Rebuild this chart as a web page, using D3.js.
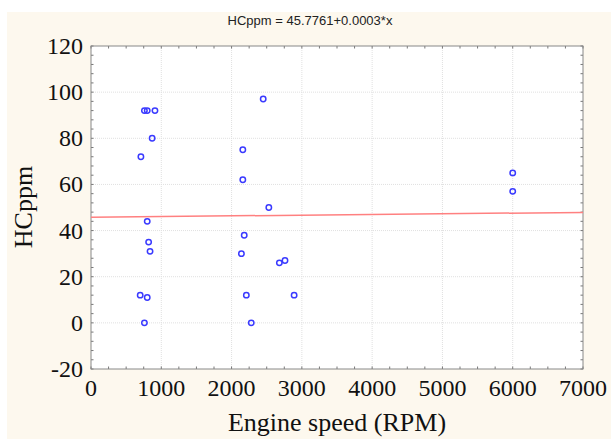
<!DOCTYPE html>
<html>
<head>
<meta charset="utf-8">
<script src="https://cdn.jsdelivr.net/npm/d3@7"></script>
<style>
  body { margin: 0; background: #fff; }
</style>
</head>
<body>
<script>

// engine speed (RPM) and HC (ppm)
var rpm  = [2450, 760, 800, 910, 870, 710, 2160, 2160, 2530, 800, 820, 840, 700, 800, 760, 2180, 2140, 2680, 2760, 2210, 2890, 2280, 6000, 6000];
var hc   = [97, 92, 92, 92, 80, 72, 75, 62, 50, 44, 35, 31, 12, 11, 0, 38, 30, 26, 27, 12, 12, 0, 65, 57];
var xTicks = [0, 1000, 2000, 3000, 4000, 5000, 6000, 7000];
var yTicks = [-20, 0, 20, 40, 60, 80, 100, 120];
var fitA = 45.7761, fitB = 0.0003;

var svg = d3.select('body').append('svg')
    .attr('width', 611)
    .attr('height', 439);

// cream panel
svg.append('rect')
    .attr('x', 7).attr('y', 12)
    .attr('width', 604).attr('height', 427)
    .attr('fill', '#fdf8ee');

var pL = 91, pR = 583, pT = 46, pB = 369;

var x = d3.scaleLinear().domain([0, 7000]).range([pL, pR]);
var y = d3.scaleLinear().domain([-20, 120]).range([pB, pT]);

svg.append('rect')
    .attr('x', pL).attr('y', pT)
    .attr('width', pR - pL).attr('height', pB - pT)
    .attr('fill', '#fff');

// grid
svg.selectAll('.gx').data(xTicks.slice(1, -1)).enter().append('line')
    .attr('x1', d => x(d)).attr('x2', d => x(d))
    .attr('y1', pT).attr('y2', pB)
    .attr('stroke', '#e0e0e0').attr('stroke-dasharray', '1,1');
svg.selectAll('.gy').data(yTicks.slice(1, -1)).enter().append('line')
    .attr('x1', pL).attr('x2', pR)
    .attr('y1', d => y(d)).attr('y2', d => y(d))
    .attr('stroke', '#e0e0e0').attr('stroke-dasharray', '1,1');

// inward minor ticks on every side
var xMinor = d3.range(0, 7001, 250);
var yMinor = d3.range(-20, 121, 4);
var tk = svg.append('g').attr('stroke', '#777').attr('stroke-width', 1);
xMinor.forEach(function(d){
    tk.append('line').attr('x1', x(d)).attr('x2', x(d)).attr('y1', pB).attr('y2', pB - 2.5);
    tk.append('line').attr('x1', x(d)).attr('x2', x(d)).attr('y1', pT).attr('y2', pT + 2.5);
});
yMinor.forEach(function(d){
    tk.append('line').attr('x1', pL).attr('x2', pL + 2.5).attr('y1', y(d)).attr('y2', y(d));
    tk.append('line').attr('x1', pR).attr('x2', pR - 2.5).attr('y1', y(d)).attr('y2', y(d));
});

svg.append('rect')
    .attr('x', pL).attr('y', pT)
    .attr('width', pR - pL).attr('height', pB - pT)
    .attr('fill', 'none').attr('stroke', '#888');

// tick labels
svg.selectAll('.xl').data(xTicks).enter().append('text')
    .attr('x', d => x(d)).attr('y', 396)
    .attr('text-anchor', 'middle')
    .attr('font-family', 'Liberation Serif, Times New Roman, serif')
    .attr('font-size', 24).attr('fill', '#111')
    .text(d => d);
svg.selectAll('.yl').data(yTicks).enter().append('text')
    .attr('x', 83).attr('y', d => y(d) + 8)
    .attr('text-anchor', 'end')
    .attr('font-family', 'Liberation Serif, Times New Roman, serif')
    .attr('font-size', 24).attr('fill', '#111')
    .text(d => d);

// fit line
svg.append('line')
    .attr('x1', x(0)).attr('y1', y(fitA))
    .attr('x2', x(7000)).attr('y2', y(fitA + fitB * 7000))
    .attr('stroke', '#ff8080').attr('stroke-width', 1.5);

// points
svg.selectAll('.pt').data(rpm).enter().append('circle')
    .attr('cx', (d, i) => x(d))
    .attr('cy', (d, i) => y(hc[i]))
    .attr('r', 2.7)
    .attr('fill', 'none')
    .attr('stroke', '#3a3aff')
    .attr('stroke-width', 1.5);

// titles
svg.append('text')
    .attr('x', 310).attr('y', 25)
    .attr('text-anchor', 'middle')
    .attr('font-family', 'Liberation Sans, Arial, sans-serif')
    .attr('font-size', 13).attr('fill', '#222')
    .text('HCppm = 45.7761+0.0003*x');

svg.append('text')
    .attr('x', 337).attr('y', 431)
    .attr('text-anchor', 'middle')
    .attr('font-family', 'Liberation Serif, Times New Roman, serif')
    .attr('font-size', 26).attr('fill', '#111')
    .text('Engine speed (RPM)');

svg.append('text')
    .attr('transform', 'translate(32,207) rotate(-90)')
    .attr('text-anchor', 'middle')
    .attr('font-family', 'Liberation Serif, Times New Roman, serif')
    .attr('font-size', 26).attr('fill', '#111')
    .text('HCppm');
</script>
</body>
</html>
